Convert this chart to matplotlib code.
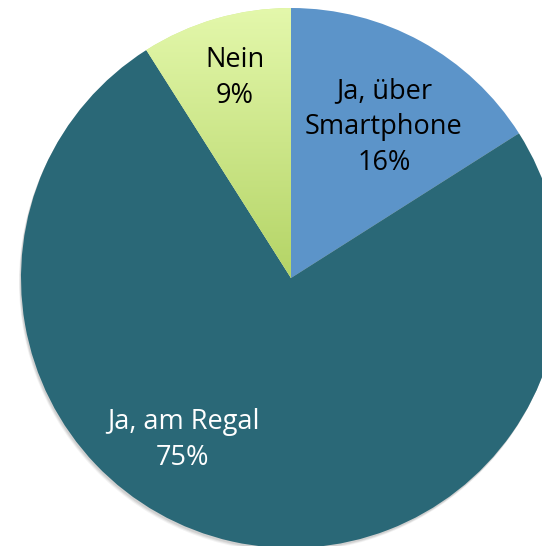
import matplotlib
matplotlib.use("Agg")
import matplotlib.pyplot as plt
import numpy as np
from matplotlib.colors import LinearSegmentedColormap

labels = ["Ja, über\nSmartphone", "Ja, am Regal", "Nein"]
values = [16, 75, 9]
colors = ["#5C94C9", "#2A6877", "#D2EA94"]
text_colors = ["black", "white", "black"]

fig = plt.figure(figsize=(5.42, 5.46), dpi=100)
ax = fig.add_axes([0, 0, 1, 1])

R = 270
# subtle shadow
for off, a in [(4, 0.10), (3, 0.15), (2, 0.2)]:
    ax.add_patch(plt.Circle((-off * 0.5, -off), R, color="#888888", alpha=a,
                            zorder=0, linewidth=0))

wedges, _ = ax.pie(values, colors=colors, startangle=90, counterclock=False,
                   radius=R, center=(0, 0), frame=True,
                   wedgeprops=dict(linewidth=0))
ax.set_xlim(-291, 251)
ax.set_ylim(-268, 278)
ax.set_aspect("equal")
ax.axis("off")

# gradient on the "Nein" wedge
cmap = LinearSegmentedColormap.from_list("g", ["#B4D466", "#E4F8AC"])
grad = np.linspace(0, 1, 256).reshape(-1, 1)
im = ax.imshow(grad, cmap=cmap, origin="lower", extent=(-160, 5, 0, R + 2),
               aspect="auto", zorder=3)
im.set_clip_path(wedges[2])
ax.set_xlim(-291, 251)
ax.set_ylim(-268, 278)

fs = 19.5
font = "Open Sans"
pos = [(93, 151), (-108, -162), (-56, 200)]
for lab, v, tc, (x, y) in zip(labels, values, text_colors, pos):
    ax.text(x, y, f"{lab}\n{v}%", ha="center", va="center", color=tc,
            fontsize=fs, family=font, linespacing=1.38, zorder=5)

fig.savefig("out.png", dpi=100)
